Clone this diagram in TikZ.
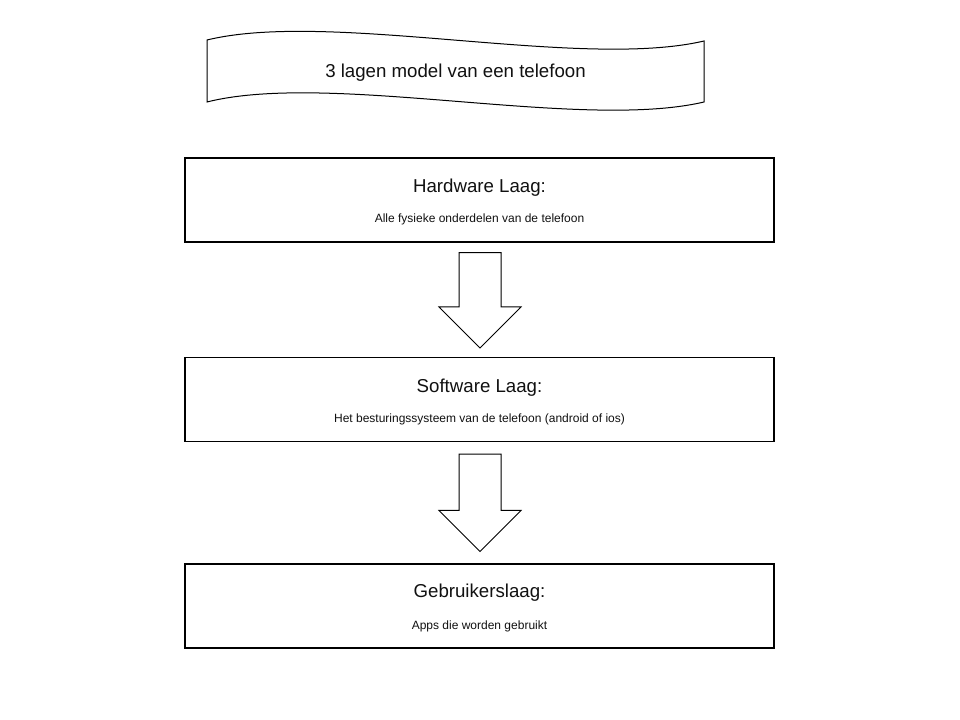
\documentclass[tikz,border=0pt]{standalone}
\usepackage{fontspec}
\setmainfont{Liberation Sans}
\usepackage{xcolor}
\usepackage{tikz}
\usetikzlibrary{calc,positioning}
\definecolor{lijn}{HTML}{000000}
\definecolor{tekst}{HTML}{111111}
\tikzset{
  laag/.style={draw=lijn, line width=0.8pt, fill=white, inner sep=0pt,
    minimum width=441.75pt, minimum height=63pt},
  kop/.style={text=tekst, font=\fontsize{14}{16}\selectfont, inner sep=0pt},
  uitleg/.style={text=tekst, font=\fontsize{9}{11}\selectfont, inner sep=0pt},
  band/.style={draw=lijn, line width=0.75pt, fill=white},
  pijl/.style={draw=lijn, line width=0.75pt, fill=white, line join=miter}
}
\begin{document}
\begin{tikzpicture}[x=0.75pt, y=-0.75pt]
  \useasboundingbox (0,0) rectangle (960,720);

  % banner
  \draw[band] (207,40) .. controls (330,10) and (580,70) .. (704,41)
    -- (704,102) .. controls (580,131) and (330,71) .. (207,102) -- cycle;
  \node[kop] (titel) at (455.5,73) {3 lagen model van een telefoon};

  % lagen
  \node[laag] (hw) at (479.5,200) {};
  \node[laag] (sw) at (479.5,399.5) {};
  \node[laag] (gb) at (479.5,606) {};

  \node[kop] (hwkop) at ($(hw.center)+(0,-12)$) {Hardware Laag:};
  \node[uitleg] (hwtxt) at ($(hw.center)+(0,19)$) {Alle fysieke onderdelen van de telefoon};
  \node[kop] (swkop) at ($(sw.center)+(0,-12)$) {Software Laag:};
  \node[uitleg] (swtxt) at ($(sw.center)+(0,20)$) {Het besturingssysteem van de telefoon (android of ios)};
  \node[kop] (gbkop) at ($(gb.center)+(0,-13)$) {Gebruikerslaag:};
  \node[uitleg] (gbtxt) at ($(gb.center)+(0,20)$) {Apps die worden gebruikt};

  % pijlen
  \coordinate (p1top) at ($(hw.south)+(0.5,10)$);
  \coordinate (p1tip) at ($(sw.north)+(0.5,-9)$);
  \draw[pijl] ($(p1top)+(-21,0)$) -- ($(p1top)+(21,0)$) -- ($(p1tip)+(21,-41)$)
    -- ($(p1tip)+(41,-41)$) -- (p1tip) -- ($(p1tip)+(-41,-41)$)
    -- ($(p1tip)+(-21,-41)$) -- cycle;

  \coordinate (p2top) at ($(sw.south)+(0.5,12)$);
  \coordinate (p2tip) at ($(gb.north)+(0.5,-12)$);
  \draw[pijl] ($(p2top)+(-21,0)$) -- ($(p2top)+(21,0)$) -- ($(p2tip)+(21,-41)$)
    -- ($(p2tip)+(41,-41)$) -- (p2tip) -- ($(p2tip)+(-41,-41)$)
    -- ($(p2tip)+(-21,-41)$) -- cycle;
\end{tikzpicture}
\end{document}
